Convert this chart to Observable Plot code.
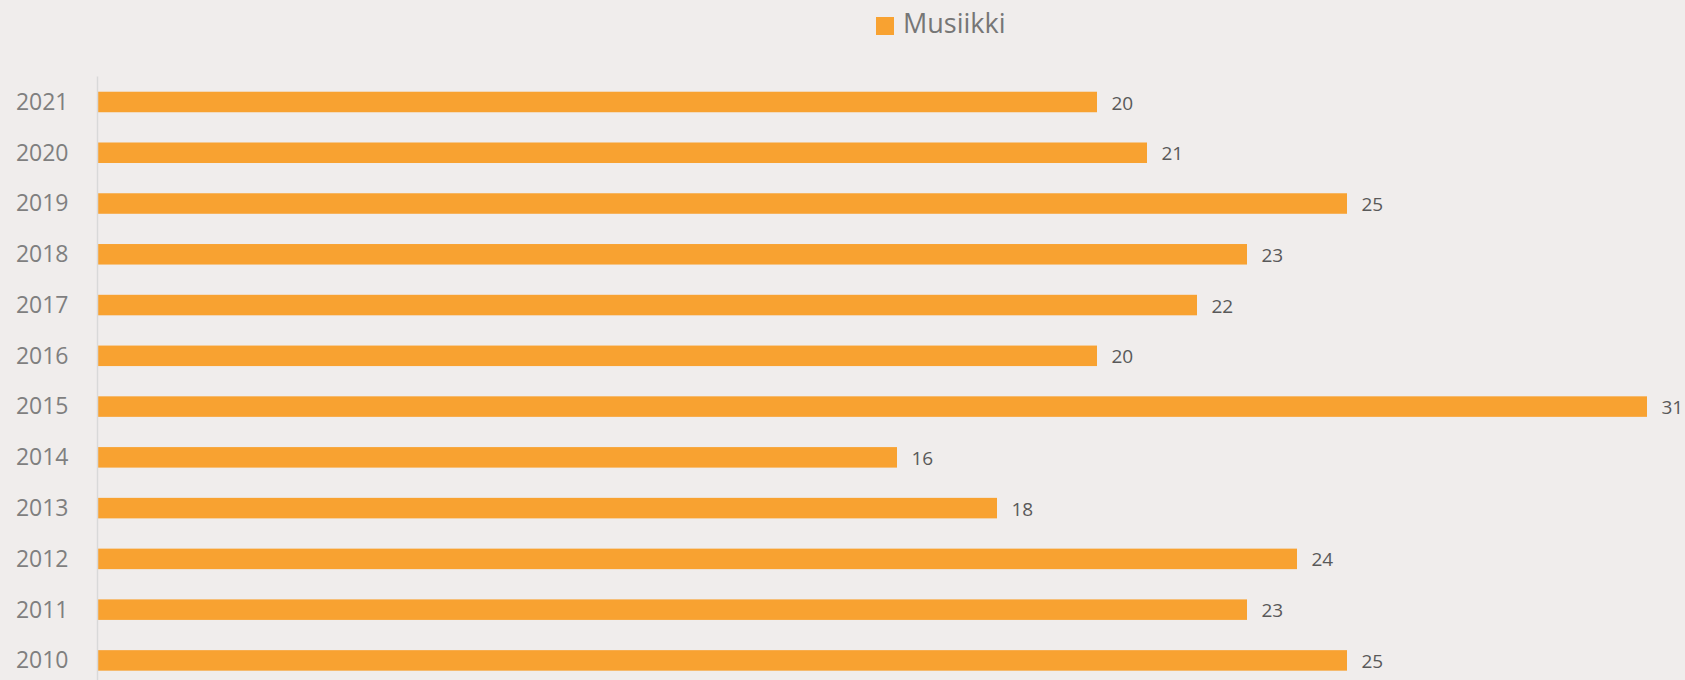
<!DOCTYPE html>
<html>
<head>
<meta charset="utf-8">
<script src="https://cdn.jsdelivr.net/npm/d3@7"></script>
<script src="https://cdn.jsdelivr.net/npm/@observablehq/plot@0.6"></script>
<style>
  html, body { margin: 0; padding: 0; background: #F0EDEC; overflow: hidden; }
  #legend { position: relative; height: 50px; width: 1685px; font-family: "Open Sans", sans-serif; }
  #legend .sw { position: absolute; left: 876px; top: 17px; width: 18px; height: 18px; background: #F8A231; }
  #legend .lb { position: absolute; left: 903px; top: 4px; font-size: 27px; color: #767676; line-height: normal; }
  svg { display: block; }
</style>
</head>
<body>
<div id="legend"><div class="sw"></div><div class="lb">Musiikki</div></div>
<div id="chart"></div>
<script>
const years = ["2021","2020","2019","2018","2017","2016","2015","2014","2013","2012","2011","2010"];
const values = [20, 21, 25, 23, 22, 20, 31, 16, 18, 24, 23, 25];
const seriesName = "Musiikki";

const data = years.map((y, i) => ({year: y, value: values[i]}));

const chart = Plot.plot({
  width: 1685,
  height: 636,
  marginTop: 26.6,
  marginBottom: 0.2,
  marginLeft: 97,
  marginRight: 38,
  style: {background: "#F0EDEC", fontFamily: "'Open Sans', sans-serif", overflow: "visible"},
  x: {domain: [0, 31], axis: null},
  y: {domain: years, round: false, paddingInner: 0.596, paddingOuter: 0.298, label: null, tickSize: 0, tickPadding: 29, fontSize: 23},
  marks: [
    Plot.barX(data, {x: "value", y: "year", fill: "#F8A231"}),
    Plot.ruleX([0], {stroke: "#D9D9D9", strokeWidth: 1.5}),
    Plot.text(data, {x: "value", y: "year", text: d => String(d.value), dx: 14, dy: 1, textAnchor: "start", fontSize: 19, fill: "#595959"}),
    Plot.axisY({tickSize: 0, tickPadding: 29, fontSize: 23, label: null, color: "#7F7F7F"})
  ]
});
document.getElementById("chart").appendChild(chart);
</script>
</body>
</html>
